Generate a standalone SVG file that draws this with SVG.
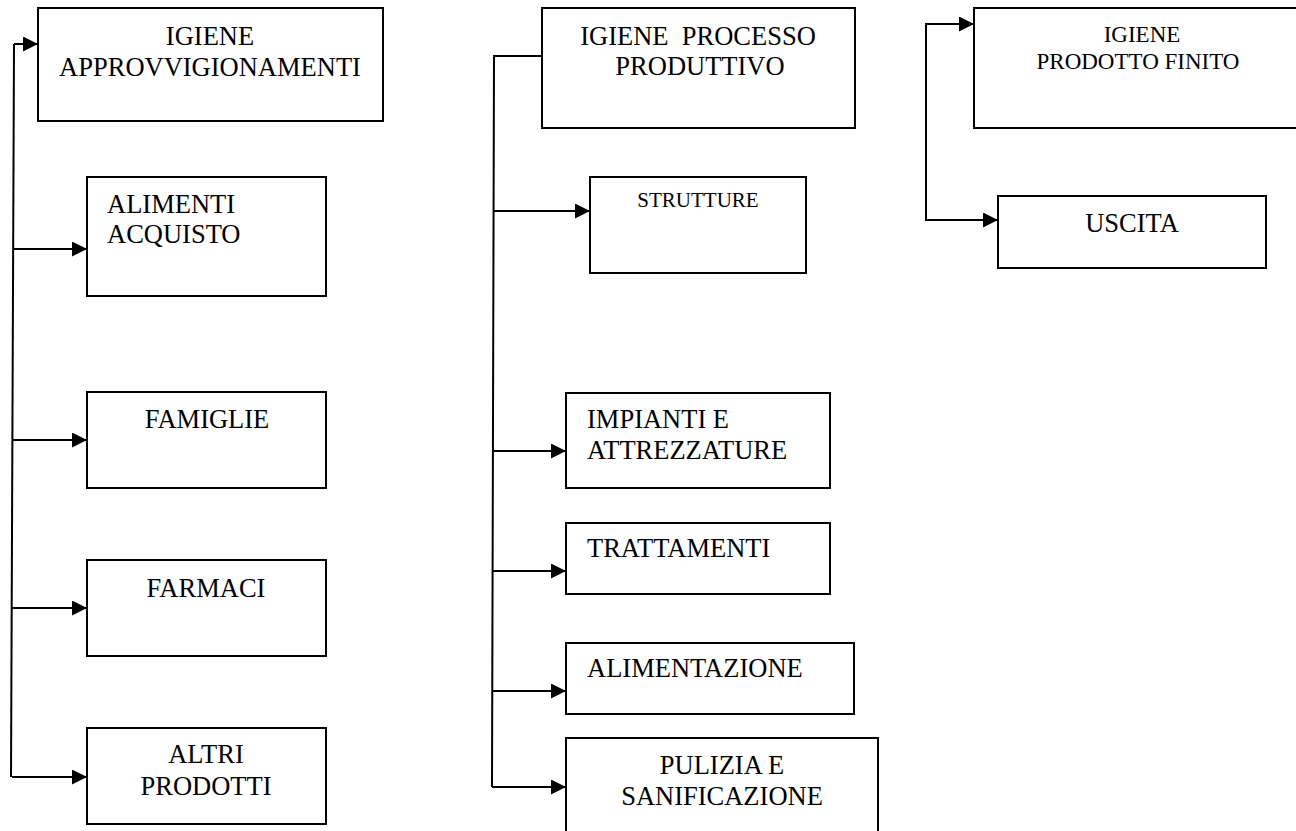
<svg xmlns="http://www.w3.org/2000/svg" width="1296" height="831" viewBox="0 0 1296 831">
  <style>
    .box { fill: #fff; stroke: #000; stroke-width: 2; }
    .t { font-family: "Liberation Serif", "Times New Roman", serif; font-size: 26.5px; fill: #000; }
    .c { text-anchor: middle; }
    .s { font-size: 21px; }
    .m { font-size: 23px; }
    .conn { fill: none; stroke: #000; stroke-width: 2; }
  </style>
  <defs>
    <marker id="arrow" viewBox="0 0 15 15" refX="15" refY="7.5" markerWidth="15" markerHeight="15" markerUnits="userSpaceOnUse" orient="auto">
      <path d="M0,0 L15,7.5 L0,15 Z" fill="#000"/>
    </marker>
  </defs>
  <rect width="1296" height="831" fill="#fff"/>

  <!-- connectors -->
  <g id="connectors" class="conn">
    <!-- supply hygiene branch -->
    <path d="M14,44 L11,777"/>
    <path d="M14,44 H38" marker-end="url(#arrow)"/>
    <path d="M14,249 H87" marker-end="url(#arrow)"/>
    <path d="M13,440 H87" marker-end="url(#arrow)"/>
    <path d="M12,608 H87" marker-end="url(#arrow)"/>
    <path d="M12,777 H87" marker-end="url(#arrow)"/>
    <!-- production process branch -->
    <path d="M542,56 H494 L492,787"/>
    <path d="M494,211 H590" marker-end="url(#arrow)"/>
    <path d="M494,451 H566" marker-end="url(#arrow)"/>
    <path d="M493,571 H566" marker-end="url(#arrow)"/>
    <path d="M493,691 H566" marker-end="url(#arrow)"/>
    <path d="M492,787 H566" marker-end="url(#arrow)"/>
    <!-- finished product branch -->
    <path d="M926,122 V24 H974" marker-end="url(#arrow)"/>
    <path d="M926,122 V220 H998" marker-end="url(#arrow)"/>
  </g>

  <g id="igiene-approvvigionamenti">
    <rect class="box" x="38" y="8" width="345" height="113"/>
    <text class="t c" x="210" y="45">IGIENE</text>
    <text class="t c" x="210" y="76">APPROVVIGIONAMENTI</text>
  </g>
  <g id="alimenti-acquisto">
    <rect class="box" x="87" y="177" width="239" height="119"/>
    <text class="t" x="107" y="213">ALIMENTI</text>
    <text class="t" x="107" y="243">ACQUISTO</text>
  </g>
  <g id="famiglie">
    <rect class="box" x="87" y="392" width="239" height="96"/>
    <text class="t c" x="207" y="428">FAMIGLIE</text>
  </g>
  <g id="farmaci">
    <rect class="box" x="87" y="560" width="239" height="96"/>
    <text class="t c" x="206" y="597">FARMACI</text>
  </g>
  <g id="altri-prodotti">
    <rect class="box" x="87" y="728" width="239" height="96"/>
    <text class="t c" x="206" y="763">ALTRI</text>
    <text class="t c" x="206" y="795">PRODOTTI</text>
  </g>

  <g id="igiene-processo-produttivo">
    <rect class="box" x="542" y="8" width="313" height="120"/>
    <text class="t c" x="698" y="45" xml:space="preserve">IGIENE  PROCESSO</text>
    <text class="t c" x="700" y="75">PRODUTTIVO</text>
  </g>
  <g id="strutture">
    <rect class="box" x="590" y="177" width="216" height="96"/>
    <text class="t s c" x="698" y="207">STRUTTURE</text>
  </g>
  <g id="impianti-attrezzature">
    <rect class="box" x="566" y="393" width="264" height="95"/>
    <text class="t" x="587" y="428">IMPIANTI E</text>
    <text class="t" x="587" y="459">ATTREZZATURE</text>
  </g>
  <g id="trattamenti">
    <rect class="box" x="566" y="523" width="264" height="71"/>
    <text class="t" x="587" y="557">TRATTAMENTI</text>
  </g>
  <g id="alimentazione">
    <rect class="box" x="566" y="643" width="288" height="71"/>
    <text class="t" x="587" y="677">ALIMENTAZIONE</text>
  </g>
  <g id="pulizia-sanificazione">
    <rect class="box" x="566" y="738" width="312" height="120"/>
    <text class="t c" x="722" y="774">PULIZIA E</text>
    <text class="t c" x="722" y="805">SANIFICAZIONE</text>
  </g>

  <g id="igiene-prodotto-finito">
    <rect class="box" x="974" y="8" width="340" height="120"/>
    <text class="t m c" x="1142" y="42">IGIENE</text>
    <text class="t m c" x="1138" y="69">PRODOTTO FINITO</text>
  </g>
  <g id="uscita">
    <rect class="box" x="998" y="196" width="268" height="72"/>
    <text class="t c" x="1132" y="232">USCITA</text>
  </g>
</svg>
